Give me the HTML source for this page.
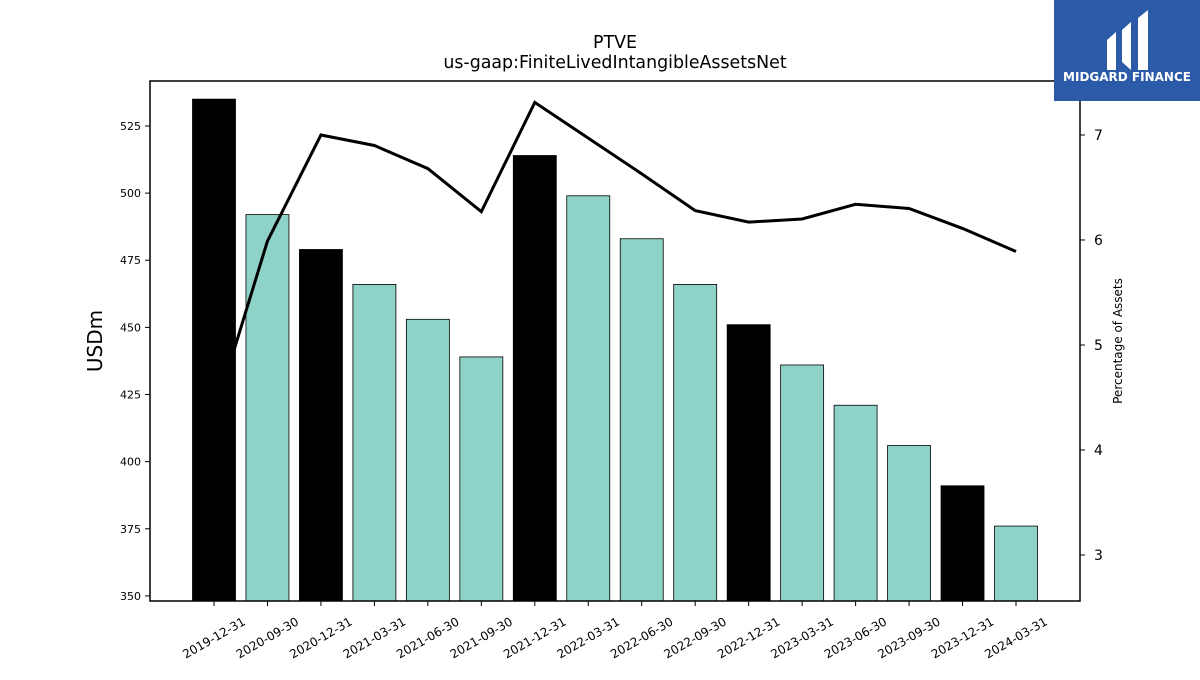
<!DOCTYPE html>
<html><head><meta charset="utf-8"><style>
body{margin:0;background:#fff;width:1200px;height:675px;overflow:hidden;font-family:"Liberation Sans","DejaVu Sans",sans-serif}
</style></head><body>
<svg id="chart" width="1200" height="675" xmlns="http://www.w3.org/2000/svg" font-family="DejaVu Sans, Liberation Sans, sans-serif">
<text x="615" y="48" text-anchor="middle" font-size="17.4">PTVE</text>
<text x="615" y="68" text-anchor="middle" font-size="17.4">us-gaap:FiniteLivedIntangibleAssetsNet</text>
<g id="bars"></g><g id="xticks"></g><g id="yticks"></g><g id="y2ticks"></g>
<polyline id="line" fill="none" stroke="#000" stroke-width="3"/>
<rect x="150" y="81" width="930" height="520" fill="none" stroke="#000" stroke-width="1.5"/>
<text transform="translate(102,341) rotate(-90)" text-anchor="middle" font-size="20">USDm</text>
<text transform="translate(1122,341) rotate(-90)" text-anchor="middle" font-size="12">Percentage of Assets</text>
<g>
<rect x="1054" y="0" width="146" height="101" fill="#2b5aa9"/>
<path d="M1107 40 L1116 32 L1116 70 L1107 70 Z M1122 30 L1131 22 L1131 70 L1122 62 Z M1138 18 L1148 10 L1148 70 L1138 70 Z" fill="#fff"/>
<text x="1127" y="81" text-anchor="middle" font-size="12" font-weight="bold" fill="#fff">MIDGARD FINANCE</text>
</g>
</svg>
<script>
const categories=["2019-12-31","2020-09-30","2020-12-31","2021-03-31","2021-06-30","2021-09-30","2021-12-31","2022-03-31","2022-06-30","2022-09-30","2022-12-31","2023-03-31","2023-06-30","2023-09-30","2023-12-31","2024-03-31"];
const barValues=[535,492,479,466,453,439,514,499,483,466,451,436,421,406,391,376];
const pctValues=[4.33,5.99,7.0,6.9,6.68,6.27,7.31,6.97,6.63,6.28,6.17,6.2,6.34,6.3,6.11,5.89];
const yTicks=[350,375,400,425,450,475,500,525];
const y2Ticks=[3,4,5,6,7];
const NS="http://www.w3.org/2000/svg";
const X0=150,X1=1080,Y0=81,Y1=601;
const yMin=348.1,yMax=541.75,y2Min=2.562,y2Max=7.514;
const step=(1016-214)/15;
const xc=i=>214+i*step;
const y=v=>Y1-(v-yMin)/(yMax-yMin)*(Y1-Y0);
const y2=v=>Y1-(v-y2Min)/(y2Max-y2Min)*(Y1-Y0);
function mk(t,a,p){const e=document.createElementNS(NS,t);for(const k in a)e.setAttribute(k,a[k]);p.appendChild(e);return e;}
const bars=document.getElementById('bars'),xt=document.getElementById('xticks'),yt=document.getElementById('yticks'),y2t=document.getElementById('y2ticks');
categories.forEach((c,i)=>{
 const dark=c.endsWith("12-31");
 const r=mk('rect',{x:xc(i)-21.5,y:y(barValues[i]),width:43,height:Y1-y(barValues[i]),fill:dark?'#000':'#8fd3c8',stroke:'#000','stroke-width':0.8},bars);
 
 
 mk('line',{x1:xc(i),x2:xc(i),y1:Y1,y2:Y1+5,stroke:'#000'},xt);
 const t=mk('text',{x:0,y:4,'font-size':12,'text-anchor':'middle',transform:`translate(${xc(i)},${Y1+37}) rotate(-30)`},xt);
 t.textContent=c;
 
 
});
yTicks.forEach(v=>{
 mk('line',{x1:X0-5,x2:X0,y1:y(v),y2:y(v),stroke:'#000'},yt);
 const t=mk('text',{x:X0-9,y:y(v)+4,'font-size':11,'text-anchor':'end'},yt);t.textContent=v;
 
 
});
y2Ticks.forEach(v=>{
 mk('line',{x1:X1,x2:X1+5,y1:y2(v),y2:y2(v),stroke:'#000'},y2t);
 const t=mk('text',{x:X1+14,y:y2(v)+5,'font-size':14},y2t);t.textContent=v;
 
 
});
document.getElementById('line').setAttribute('points',pctValues.map((v,i)=>xc(i)+','+y2(v)).join(' '));
</script>
</body></html>
